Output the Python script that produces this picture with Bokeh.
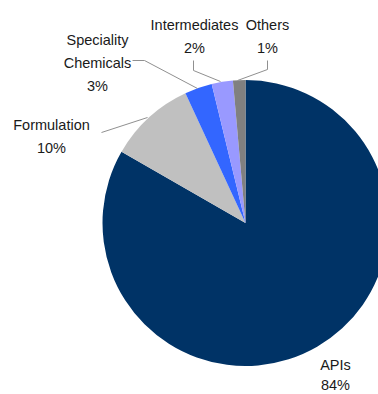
import numpy as np
from bokeh.plotting import figure
from bokeh.models import Range1d
from bokeh.core.properties import value
from bokeh.embed import file_html
from bokeh.resources import INLINE

# Data
categories = ["APIs", "Formulation", "Speciality Chemicals", "Intermediates", "Others"]
shares = [83.3, 9.8, 3.1, 2.4, 1.4]
share_labels = ["84%", "10%", "3%", "2%", "1%"]
colors = ["#003366", "#C0C0C0", "#3366FF", "#9999FF", "#808080"]

W, H = 378, 394
p = figure(width=W, height=H, output_backend="svg", toolbar_location=None,
           x_range=Range1d(0, W), y_range=Range1d(0, H), min_border=0)
p.axis.visible = False
p.grid.visible = False
p.outline_line_color = None
p.background_fill_color = "white"
p.border_fill_color = "white"

cx, cy, r = 245, H - 222.5, 143
frac = np.array(shares) / sum(shares)
cum = np.concatenate([[0], np.cumsum(frac)])
starts = np.pi / 2 - 2 * np.pi * cum[:-1]
ends = np.pi / 2 - 2 * np.pi * cum[1:]
p.wedge(x=[cx] * len(shares), y=[cy] * len(shares), radius=r,
        start_angle=list(starts), end_angle=list(ends), direction="clock",
        fill_color=colors, line_color=None)

# leader lines (pixel layout, y from top)
leaders = [
    [(101, 132), (147, 117)],
    [(132, 60), (144, 60), (197, 88)],
    [(193, 60), (193, 70), (220, 81)],
    [(267, 60), (267, 69), (237, 80)],
]
for pts in leaders:
    p.line([a for a, b in pts], [H - b for a, b in pts], line_color="#909090", line_width=1)

font = value("Liberation Sans")
fs = "14.5px"
col = "#1a1a1a"

def txt(x, y, s):
    p.text(x=[x], y=[H - y], text=[s], text_font=font, text_font_size=fs,
           text_color=col, text_align="center", text_baseline="middle")

# label layout
txt(335, 364, categories[0]); txt(335, 384, share_labels[0])
txt(51, 124, categories[1]); txt(51, 147, share_labels[1])
sp = categories[2].split(" ")
txt(97, 39, sp[0]); txt(97, 62, sp[1]); txt(97, 85, share_labels[2])
txt(194, 24, categories[3]); txt(194, 47, share_labels[3])
txt(267, 24, categories[4]); txt(267, 47, share_labels[4])

open("out.html", "w").write(file_html(p, INLINE))
